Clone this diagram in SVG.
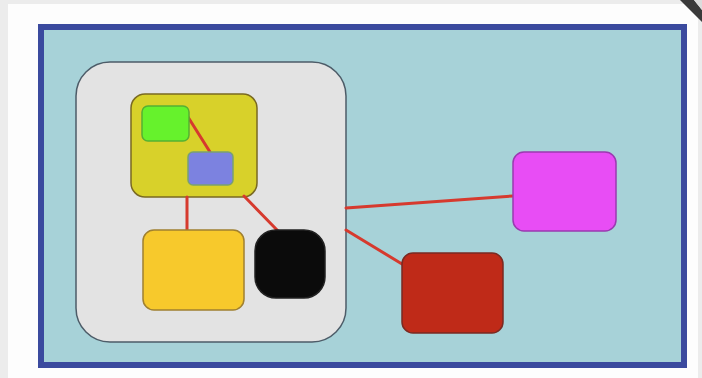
<svg xmlns="http://www.w3.org/2000/svg" width="702" height="378" viewBox="0 0 702 378">
  <style>
    .edge { stroke: #d63a2e; stroke-width: 3; fill: none; stroke-linecap: round; }
    .node { stroke-width: 1.5; }
  </style>
  <rect x="0" y="0" width="702" height="378" fill="#ececec"/>
  <rect x="8" y="4" width="690" height="374" fill="#fdfdfd"/>
  <polygon points="680,0 694,0 702,10 702,22" fill="#3a3a3a"/>
  <polygon points="694,0 702,0 702,10" fill="#dcdcdc"/>

  <g id="frame">
    <rect x="41" y="27" width="643" height="338" fill="#a7d2d8" stroke="#3b4a9e" stroke-width="6"/>
  </g>

  <g id="container">
    <rect x="76" y="62" width="270" height="280" rx="34" ry="34" fill="#e3e3e3" stroke="#4d5c68" stroke-width="1.5"/>
  </g>

  <g id="olive">
    <rect class="node" x="131" y="94" width="126" height="103" rx="14" ry="14" fill="#d8d12a" stroke="#7a6a22"/>
  </g>

  <g id="connectors">
    <line class="edge" x1="188" y1="117" x2="210" y2="152"/>
    <line class="edge" x1="187" y1="197" x2="187" y2="230"/>
    <line class="edge" x1="244" y1="196" x2="278" y2="231"/>
    <line class="edge" x1="346" y1="208" x2="513" y2="196"/>
    <line class="edge" x1="346" y1="230" x2="402" y2="264"/>
  </g>

  <g id="green">
    <rect class="node" x="142" y="106" width="47" height="35" rx="6" ry="6" fill="#66f22c" stroke="#56b033"/>
  </g>
  <g id="blue">
    <rect class="node" x="188" y="152" width="45" height="33" rx="5" ry="5" fill="#7c82e0" stroke="#7aa070"/>
  </g>
  <g id="gold">
    <rect class="node" x="143" y="230" width="101" height="80" rx="11" ry="11" fill="#f7c92c" stroke="#a08030"/>
  </g>
  <g id="black">
    <rect class="node" x="255" y="230" width="70" height="68" rx="21" ry="21" fill="#0b0b0b" stroke="#222222"/>
  </g>
  <g id="magenta">
    <rect class="node" x="513" y="152" width="103" height="79" rx="11" ry="11" fill="#e84df5" stroke="#9a3ab0"/>
  </g>
  <g id="red">
    <rect class="node" x="402" y="253" width="101" height="80" rx="11" ry="11" fill="#bf2a18" stroke="#7a2a22"/>
  </g>
</svg>
